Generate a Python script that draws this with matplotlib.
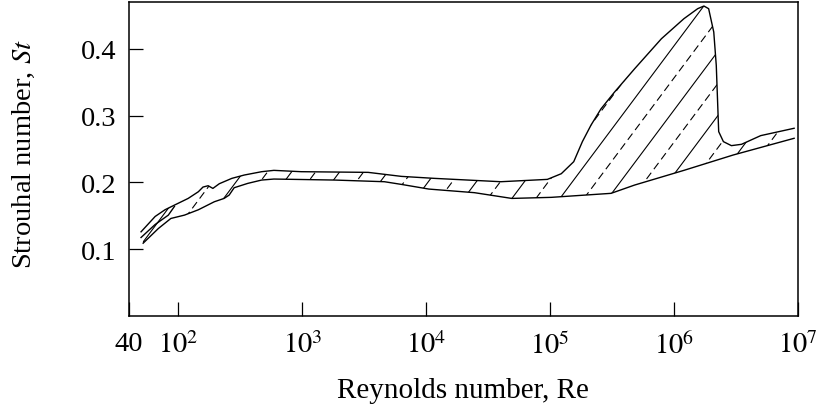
import numpy as np
import matplotlib.pyplot as plt

## Upper and lower boundaries of the Strouhal-number band
re_upper = [50, 65, 78, 93, 120, 145, 158, 174, 190, 214, 270, 340, 470, 590, 980,
            3400, 6300, 1.17e4, 4.0e4, 9.5e4, 1.23e5, 1.55e5, 1.82e5, 2.14e5, 2.57e5,
            3.3e5, 4.8e5, 7.9e5, 1.2e6, 1.55e6, 1.74e6, 1.9e6, 2.09e6, 2.19e6, 2.24e6,
            2.29e6, 2.5e6, 2.9e6, 3.5e6, 5.0e6, 9.3e6]
st_upper = [0.126, 0.149, 0.159, 0.166, 0.176, 0.186, 0.193, 0.195, 0.191, 0.198, 0.206,
            0.211, 0.216, 0.218, 0.216, 0.215, 0.209, 0.206, 0.201, 0.2045, 0.213, 0.231,
            0.261, 0.286, 0.310, 0.335, 0.370, 0.415, 0.445, 0.460, 0.464, 0.460, 0.425,
            0.375, 0.325, 0.276, 0.261, 0.255, 0.257, 0.270, 0.281]

re_lower = [52, 69, 87, 112, 145, 195, 234, 257, 282, 363, 470, 590, 1820, 4600, 6300,
            1.05e4, 2.45e4, 4.9e4, 1.02e5, 3.1e5, 4.8e5, 1.2e6, 3.0e6, 9.3e6]
st_lower = [0.109, 0.131, 0.146, 0.151, 0.159, 0.171, 0.176, 0.181, 0.192, 0.1985, 0.2035,
            0.205, 0.2035, 0.201, 0.197, 0.190, 0.1846, 0.176, 0.1776, 0.1836, 0.196, 0.218,
            0.241, 0.266]

## Extra line at the low-Re end
re_middle = [50, 65, 83, 93]
st_middle = [0.1175, 0.137, 0.151, 0.164]

xtick_vals = [40, 1e2, 1e3, 1e4, 1e5, 1e6, 1e7]
xtick_labels = ['40', '$10^{2}$', '$10^{3}$', '$10^{4}$', '$10^{5}$', '$10^{6}$', '$10^{7}$']
ytick_vals = [0.1, 0.2, 0.3, 0.4]
ytick_labels = ['0.1', '0.2', '0.3', '0.4']

plt.rcParams['font.family'] = 'Liberation Serif'
plt.rcParams['mathtext.fontset'] = 'stix'

fig = plt.figure(figsize=(8.25, 4.06), dpi=100)
ax = fig.add_axes([0.1564, 0.2192, 0.8109, 0.7734])

ax.plot(re_upper, st_upper, color='black', lw=1.0)
ax.plot(re_lower, st_lower, color='black', lw=1.0)
ax.plot(re_middle, st_middle, color='black', lw=1.0)

## Region between the curves, used only to clip the hatching
poly = ax.fill(np.concatenate([re_upper, re_lower[::-1]]),
               np.concatenate([st_upper, st_lower[::-1]]),
               facecolor='none', edgecolor='none')[0]

## Hatching: alternating solid and dashed diagonals
slope = 2.85      # in axes fraction units
step = 0.0359
anchor_x, anchor_y = 0.858, 0.984
for k in range(-40, 12):
    xa = anchor_x + k * step
    xs = [xa - anchor_y / slope, xa + (1 - anchor_y) / slope]
    ls = '-' if k % 2 == 0 else (0, (7, 4))
    ln, = ax.plot(xs, [0, 1], transform=ax.transAxes, color='black', lw=0.8, linestyle=ls)
    ln.set_clip_path(poly)

ax.set_xscale('log')
ax.set_xlim(40, 1e7)
ax.set_ylim(0, 0.47)
ax.minorticks_off()
ax.set_xticks(xtick_vals)
ax.set_xticklabels(xtick_labels)
ax.set_yticks(ytick_vals)
ax.set_yticklabels(ytick_labels)
ax.tick_params(direction='in', length=10, width=0.9, labelsize=20.5)
ax.tick_params(axis='x', pad=11)
ax.tick_params(axis='y', pad=9)
for sp in ax.spines.values():
    sp.set_linewidth(1.1)

ax.set_xlabel('Reynolds number, Re', fontsize=21)
ax.xaxis.set_label_coords(0.4985, -0.195)
ax.set_ylabel('Strouhal number, $St$', fontsize=20.5)
ax.yaxis.set_label_coords(-0.1375, 0.52)

fig.savefig('out.png', dpi=100)
